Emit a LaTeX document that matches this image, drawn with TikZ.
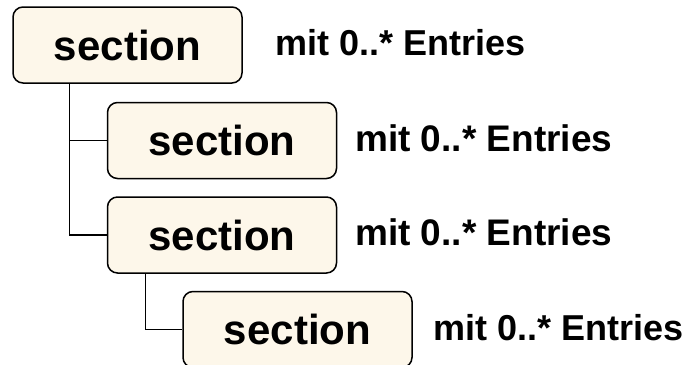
\documentclass[tikz,border=0pt]{standalone}
\usepackage{fontspec}
\setmainfont{Liberation Sans}
\usetikzlibrary{positioning}
\definecolor{boxfill}{RGB}{253,247,234}

\begin{document}
\begin{tikzpicture}[x=1pt,y=-1pt]
  \tikzset{
  	secbox/.style={draw=black, line width=1.5pt, fill=boxfill, rounded corners=10pt,
  	  minimum width=229pt, minimum height=76pt, inner sep=0pt,
  	  font=\fontsize{42}{46}\selectfont\bfseries},
  	entries/.style={anchor=mid west, inner sep=0pt, font=\fontsize{36}{40}\selectfont\bfseries},
  	tree/.style={line width=1.3pt},
  }
  \useasboundingbox (0,0) rectangle (693,364);

  % the sections, one level under the other
  \node[secbox] (s1) at (127.5,45)  {section};
  \node[secbox] (s2) at (222,140.5) {section};
  \node[secbox] (s3) at (222,235)   {section};
  \node[secbox] (s4) at (297.5,329.5) {section};

  % the entries beside each section
  \node[entries] (e1) at (275,53)  {mit 0..* Entries};
  \node[entries, font=\fontsize{37}{40}\selectfont\bfseries] (e2) at (355,149) {mit 0..* Entries};
  \node[entries, font=\fontsize{37}{40}\selectfont\bfseries] (e3) at (355,243) {mit 0..* Entries};
  \node[entries] (e4) at (433,338) {mit 0..* Entries};

  % tree lines
  \draw[tree] ([xshift=57pt]s1.south west) |- (s2.west);
  \draw[tree] ([xshift=57pt]s1.south west) |- (s3.west);
  \draw[tree] ([xshift=39pt]s3.south west) |- (s4.west);
\end{tikzpicture}
\end{document}
